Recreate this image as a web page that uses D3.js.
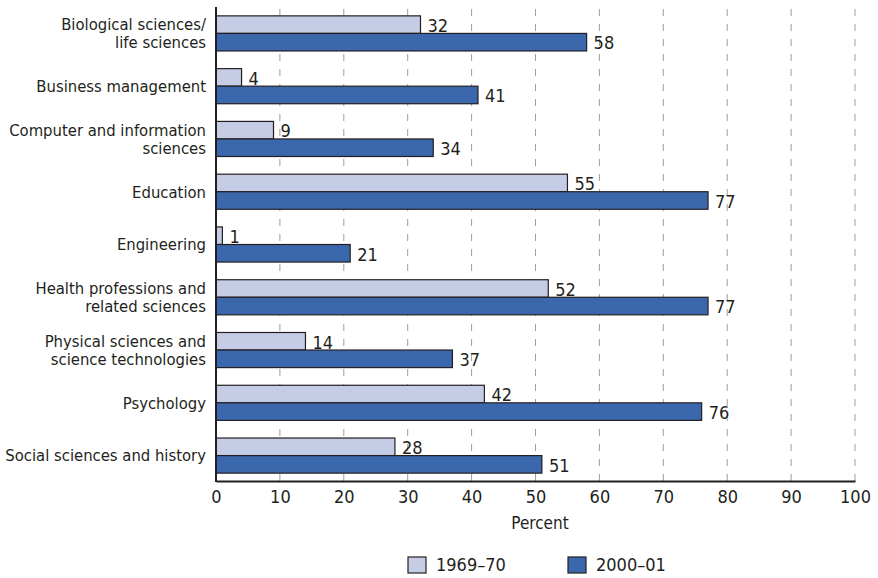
<!DOCTYPE html>
<html><head><meta charset="utf-8">
<script src="https://cdn.jsdelivr.net/npm/d3@7"></script>
<style>body{margin:0;background:#fff}svg{display:block}text{font-family:"DejaVu Sans Condensed","DejaVu Sans",sans-serif;fill:#231f20}</style>
</head><body><svg id="c" width="878" height="578"></svg>
<script>
const categories = [
  ["Biological sciences/","life sciences"],
  ["Business management"],
  ["Computer and information","sciences"],
  ["Education"],
  ["Engineering"],
  ["Health professions and","related sciences"],
  ["Physical sciences and","science technologies"],
  ["Psychology"],
  ["Social sciences and history"]
];
const values1969 = [32, 4, 9, 55, 1, 52, 14, 42, 28];
const values2000 = [58, 41, 34, 77, 21, 77, 37, 76, 51];
const seriesNames = ["1969\u201370", "2000\u201301"];
const colors = ["#c5cce5", "#3b67ad"];
const xTicks = [0,10,20,30,40,50,60,70,80,90,100];

const svg = d3.select("#c");
const x = d3.scaleLinear().domain([0,100]).range([216,855]);
const y = d3.scaleBand().domain(d3.range(categories.length)).range([7,482]).paddingInner(0.335).paddingOuter(0.168);
const sub = d3.scaleBand().domain([0,1]).range([0,y.bandwidth()]);

// gridlines
svg.append("g").selectAll("line").data(xTicks.slice(1)).join("line")
  .attr("x1",d=>x(d)).attr("x2",d=>x(d)).attr("y1",9).attr("y2",481)
  .attr("stroke","#9d9d9d").attr("stroke-width",1).attr("stroke-dasharray","7,8");

const series = [values1969, values2000];
series.forEach((vals,si)=>{
  const g = svg.append("g");
  g.selectAll("rect").data(vals).join("rect")
    .attr("x",x(0)).attr("y",(d,i)=>y(i)+sub(si))
    .attr("width",d=>x(d)-x(0)).attr("height",sub.bandwidth())
    .attr("fill",colors[si]).attr("stroke","#231f20").attr("stroke-width",1.2);
  g.selectAll("text").data(vals).join("text")
    .attr("x",d=>x(d)+7).attr("y",(d,i)=>y(i)+sub(si)+sub.bandwidth()/2+1)
    .attr("dy","0.35em").attr("font-size",18).text(d=>d);
});

// category labels
const lab = svg.append("g");
categories.forEach((lines,i)=>{
  const cy = y(i)+y.bandwidth()/2;
  const t = lab.append("text").attr("text-anchor","end").attr("font-size",16.5);
  lines.forEach((l,j)=>{
    t.append("tspan").attr("x",206).attr("y",cy + (j-(lines.length-1)/2)*18).attr("dy","0.35em").text(l);
  });
});

// axes
const xAxis = d3.axisBottom(x).tickValues(xTicks).tickSize(0).tickPadding(9).tickFormat(d3.format("d"));
const ax = svg.append("g").attr("transform","translate(0,481)").call(xAxis);
ax.select(".domain").attr("stroke","#231f20").attr("stroke-width",2);
ax.selectAll("text").attr("font-size",18).attr("font-family","'DejaVu Sans Condensed','DejaVu Sans',sans-serif").attr("fill","#231f20");
svg.append("line").attr("x1",216).attr("x2",216).attr("y1",7).attr("y2",482).attr("stroke","#231f20").attr("stroke-width",2);
svg.append("text").attr("x",540).attr("y",529).attr("text-anchor","middle").attr("font-size",17).text("Percent");

// legend
const lg = svg.append("g");
const lx = [408, 568];
seriesNames.forEach((n,i)=>{
  lg.append("rect").attr("x",lx[i]).attr("y",557).attr("width",18).attr("height",16)
    .attr("fill",colors[i]).attr("stroke","#231f20").attr("stroke-width",1.2);
  lg.append("text").attr("x",lx[i]+28).attr("y",565).attr("dy","0.35em").attr("font-size",18).text(n);
});
</script></body></html>
